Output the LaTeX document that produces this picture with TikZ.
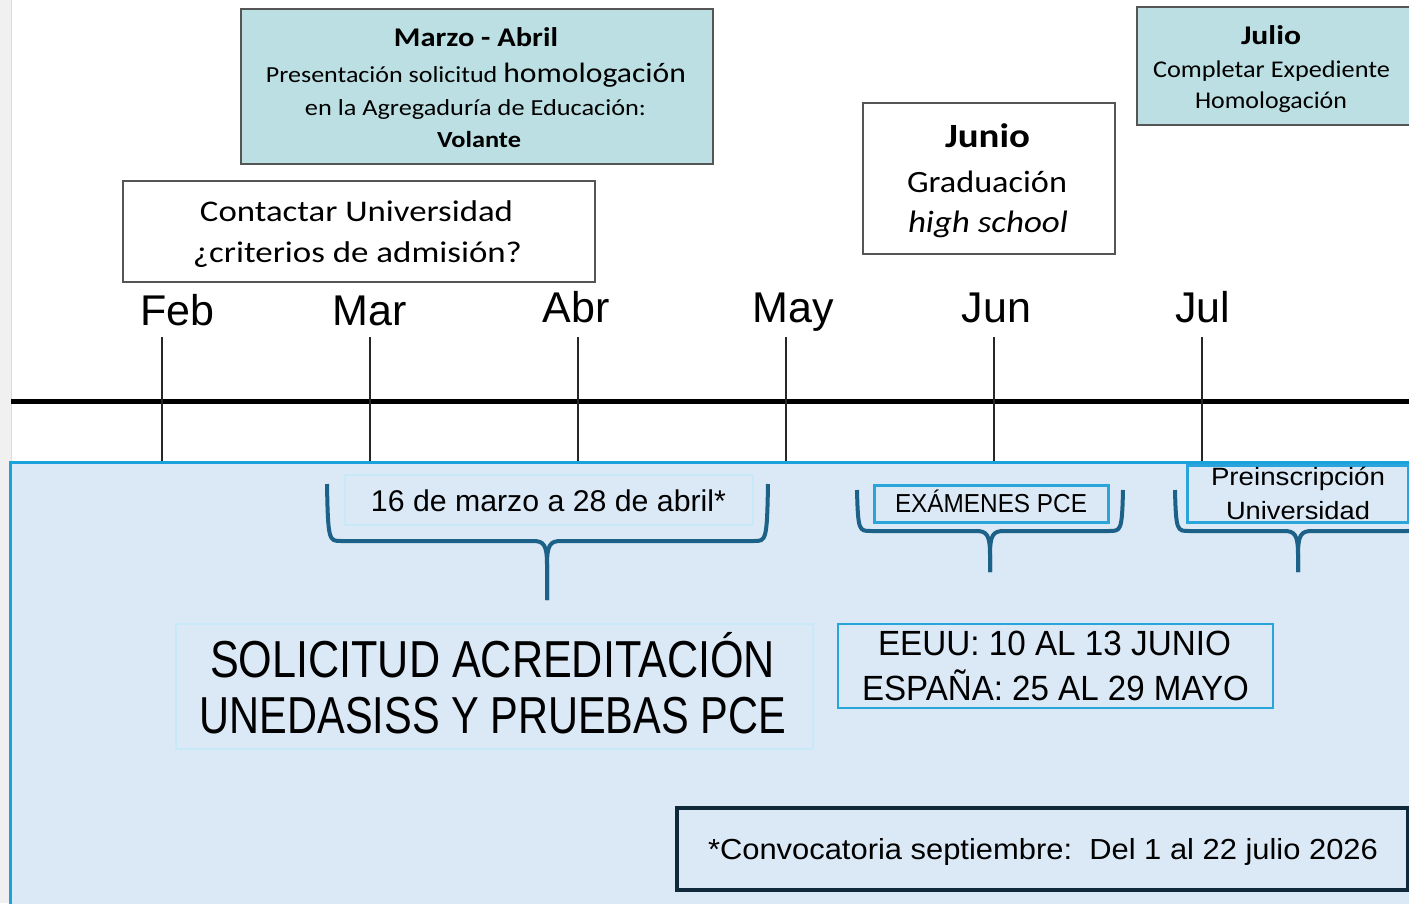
\documentclass[tikz,border=0pt]{standalone}
\usepackage{fontspec}
\usepackage{graphicx}
\setmainfont{Carlito}
\newfontfamily\calf{Carlito}
\newfontfamily\arialf{Liberation Sans}
\newcommand{\fw}[2]{\resizebox{#1pt}{\height}{#2}}
\newcommand{\fs}[1]{\fontsize{#1}{#1}\selectfont}
\definecolor{tealfill}{HTML}{BCDFE3}
\definecolor{boxgray}{HTML}{555555}
\definecolor{panelfill}{HTML}{DBE8F5}
\definecolor{panelline}{HTML}{1BA1DC}
\definecolor{bracec}{HTML}{1C6188}
\definecolor{lightb}{HTML}{C8E9F8}
\definecolor{midb}{HTML}{2AA5DB}
\definecolor{darkb}{HTML}{10293A}
\definecolor{stripgray}{HTML}{F0F0F0}
\definecolor{stripyel}{HTML}{F3E27E}
\tikzset{
  tbox/.style={draw=boxgray, line width=1.6pt, inner sep=0pt, anchor=north west},
  pbox/.style={inner sep=0pt, anchor=north west},
  lbl/.style={anchor=base, inner sep=0pt},
  monthlbl/.style={anchor=base, inner sep=0pt, font=\arialf\fs{43}},
  tickline/.style={draw=black!85, line width=2pt},
  bracest/.style={draw=bracec, line width=4pt},
}
\newcommand{\mybrace}[6]{%
  \draw[bracest] (#1,#3) .. controls (#1+1,#4) and (#1+2,#4) .. (#1+14,#4) -- (#5-14,#4) .. controls (#5-3,#4) and (#5,#4+4) .. (#5,#4+24) -- (#5,#6);
  \draw[bracest] (#2,#3) .. controls (#2-1,#4) and (#2-2,#4) .. (#2-14,#4) -- (#5+14,#4) .. controls (#5+3,#4) and (#5,#4+4) .. (#5,#4+24) -- (#5,#6);
}
\begin{document}
\begin{tikzpicture}[x=1pt,y=-1pt]
\useasboundingbox (0,0) rectangle (1409,903);
\clip (0,0) rectangle (1409,903);
\fill[white] (0,0) rectangle (1409,903);
\fill[stripgray] (0,0) rectangle (10.5,903);
\draw[stripyel, line width=1.2pt] (11.3,0) -- (11.3,461);

% timeline
\draw[black, line width=5pt] (11,401) -- (1409,401);
\foreach \x in {162,370,578,786,994,1202} \draw[tickline] (\x,337) -- (\x,461);
\node[monthlbl] (feb) at (177.5,325) {Feb};
\node[monthlbl] (mar) at (369.5,325) {Mar};
\node[monthlbl] (abr) at (576,322) {Abr};
\node[monthlbl] (may) at (793.5,322) {May};
\node[monthlbl] (jun) at (996.5,322) {Jun};
\node[monthlbl] (jul) at (1202.5,322) {Jul};

% top boxes
\node[tbox, fill=tealfill, minimum width=472pt, minimum height=155pt] (marzo) at (240,8) {};
\node[lbl] (m1) at (476,46) {\calf\bfseries\fs{27}\fw{164}{Marzo - Abril}};
\node[lbl] (m2) at (476,82) {\calf\fw{420}{\fs{23}Presentación solicitud {\fs{28}homologación}}};
\node[lbl] (m3) at (475.5,115) {\calf\fs{23}\fw{341}{en la Agregaduría de Educación:}};
\node[lbl] (m4) at (479,147) {\calf\bfseries\fs{23}\fw{84}{Volante}};

\node[tbox, fill=white, minimum width=472pt, minimum height=101pt] (contact) at (122,180) {};
\node[lbl] (c1) at (356.5,221) {\calf\fs{30}\fw{313}{Contactar Universidad}};
\node[lbl] (c2) at (357.5,262) {\calf\fs{30}\fw{329}{¿criterios de admisión?}};

\node[tbox, fill=white, minimum width=252pt, minimum height=151pt] (junio) at (862,102) {};
\node[lbl] (j1) at (987.5,147) {\calf\bfseries\fs{34}\fw{85}{Junio}};
\node[lbl] (j2) at (987,192) {\calf\fs{31}\fw{160}{Graduación}};
\node[lbl] (j3) at (988,232) {\calf\itshape\fs{31}\fw{160}{high school}};

\node[tbox, fill=tealfill, minimum width=274pt, minimum height=118pt] (julio) at (1136,6) {};
\node[lbl] (u1) at (1271,44) {\calf\bfseries\fs{27}\fw{60}{Julio}};
\node[lbl] (u2) at (1271.5,77) {\calf\fs{24}\fw{237}{Completar Expediente}};
\node[lbl] (u3) at (1271,108) {\calf\fs{24}\fw{152}{Homologación}};

% bottom panel
\node[pbox, fill=panelfill, draw=panelline, line width=2.5pt, minimum width=1410pt, minimum height=450pt] (panel) at (9,461) {};

\mybrace{327}{768}{484}{541}{547}{600}
\mybrace{857}{1123}{490}{531}{990}{572}
\mybrace{1175}{1421}{490}{531}{1298}{572}

\node[pbox, draw=lightb, line width=1.5pt, minimum width=408pt, minimum height=50pt] (rangebox) at (344,474) {};
\node[lbl] (r1) at (548.5,511) {\arialf\fs{30}\fw{355}{16 de marzo a 28 de abril*}};

\node[pbox, draw=midb, line width=2.5pt, minimum width=234pt, minimum height=37pt] (exbox) at (873,484) {};
\node[lbl] (e1) at (991,512) {\arialf\fs{26}\fw{192}{EXÁMENES PCE}};

\node[pbox, draw=midb, line width=2.5pt, minimum width=221pt, minimum height=57pt] (prebox) at (1186,464) {};
\node[lbl] (p1) at (1298,485) {\arialf\fs{25}\fw{174}{Preinscripción}};
\node[lbl] (p2) at (1298,519) {\arialf\fs{25}\fw{144}{Universidad}};

\node[pbox, draw=lightb, line width=1.5pt, minimum width=637pt, minimum height=125pt] (titlebox) at (175,623) {};
\node[lbl] (t1) at (492.5,677) {\arialf\fs{52}\fw{565}{SOLICITUD ACREDITACIÓN}};
\node[lbl] (t2) at (493,733) {\arialf\fs{52}\fw{586}{UNEDASISS Y PRUEBAS PCE}};

\node[pbox, draw=midb, line width=2pt, minimum width=435pt, minimum height=84pt] (datebox) at (837,623) {};
\node[lbl] (d1) at (1054.5,655) {\arialf\fs{35}\fw{353}{EEUU: 10 AL 13 JUNIO}};
\node[lbl] (d2) at (1055.5,700) {\arialf\fs{35}\fw{387}{ESPAÑA: 25 AL 29 MAYO}};

\node[pbox, draw=darkb, line width=4pt, minimum width=731pt, minimum height=82pt] (convbox) at (675,806) {};
\node[lbl] (v1) at (1043,859) {\arialf\fs{29}\fw{670}{*Convocatoria septiembre:\ \ Del 1 al 22 julio 2026}};
\end{tikzpicture}
\end{document}
